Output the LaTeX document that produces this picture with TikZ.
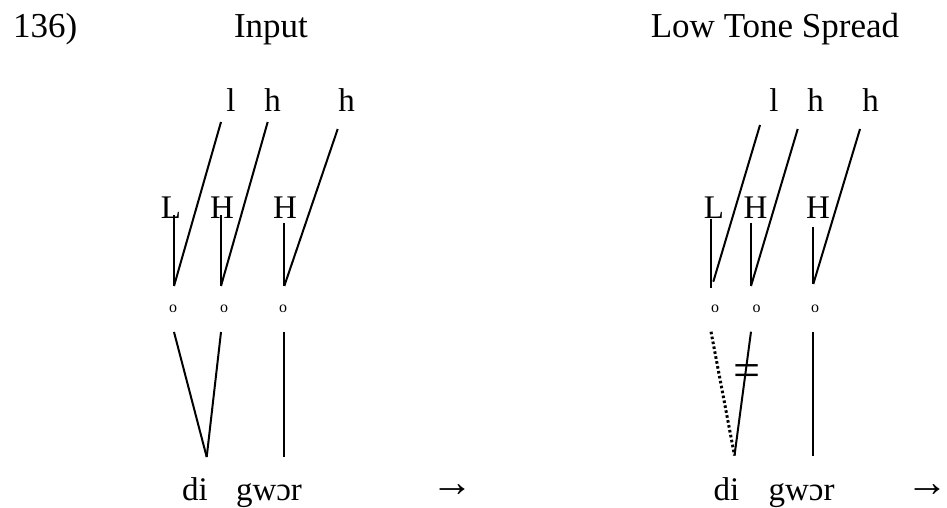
\documentclass[tikz,border=0pt]{standalone}
\usepackage{fontspec}
\setmainfont{Liberation Serif}
\begin{document}
\begin{tikzpicture}[x=1bp,y=-1bp,
  txt/.style={inner sep=0pt, anchor=base, font=\fontsize{33bp}{40bp}\selectfont},
  big/.style={inner sep=0pt, anchor=base, font=\fontsize{35bp}{40bp}\selectfont},
  sm/.style={inner sep=0pt, anchor=base, font=\fontsize{16bp}{18bp}\selectfont},
  arr/.style={inner sep=0pt, anchor=center, font=\fontsize{42bp}{44bp}\selectfont},
  ln/.style={line width=2bp},
  dotln/.style={line width=3bp, dash pattern=on 2.6bp off 2.4bp}]
\useasboundingbox (0,0) rectangle (947,508);
% headings
\node[big, anchor=base west] (num) at (13,38) {136)};
\node[big] (inp) at (271,38) {Input};
\node[big] (lts) at (775,38) {Low Tone Spread};
% ---------- left diagram ----------
\node[txt] (l1) at (231,112) {l};
\node[txt] (h1) at (272.5,112) {h};
\node[txt] (h2) at (346.5,112) {h};
\node[txt] (L1) at (171,219) {L};
\node[txt] (H1) at (222,219) {H};
\node[txt] (H2) at (285,219) {H};
\node[sm] (o1) at (173,313) {o};
\node[sm] (o2) at (224,313) {o};
\node[sm] (o3) at (283,313) {o};
\node[txt] (di1) at (195,500) {di};
\node[txt] (gw1) at (269,500) {gwɔr};
\node[arr] (ar1) at (452,491) {→};
\coordinate (l1b) at (221,122);
\coordinate (h1b) at (267.7,122);
\coordinate (h2b) at (337.7,129);
\coordinate (L1b) at (174,215);
\coordinate (H1b) at (221,215);
\coordinate (H2b) at (284.3,223);
\coordinate (v1) at (174,286);
\coordinate (v2) at (221,286);
\coordinate (v3) at (284.3,286);
\coordinate (s1) at (174,332);
\coordinate (s2) at (221,332);
\coordinate (s3) at (284.3,332);
\coordinate (d1) at (206.7,457);
\coordinate (g1) at (284.3,457);
\draw[ln] (l1b) -- (v1);
\draw[ln] (h1b) -- (v2);
\draw[ln] (h2b) -- (v3);
\draw[ln] (L1b) -- (v1);
\draw[ln] (H1b) -- (v2);
\draw[ln] (H2b) -- (v3);
\draw[ln] (s1) -- (d1);
\draw[ln] (s2) -- (d1);
\draw[ln] (s3) -- (g1);
% ---------- right diagram ----------
\node[txt] (l2) at (774,112) {l};
\node[txt] (h3) at (815.5,112) {h};
\node[txt] (h4) at (870.5,112) {h};
\node[txt] (L2) at (714,219) {L};
\node[txt] (H3) at (755.5,219) {H};
\node[txt] (H4) at (818,219) {H};
\node[sm] (o4) at (715,313) {o};
\node[sm] (o5) at (756.7,313) {o};
\node[sm] (o6) at (815,313) {o};
\node[txt] (di2) at (726.5,500) {di};
\node[txt] (gw2) at (801.5,500) {gwɔr};
\node[arr] (ar2) at (927,491) {→};
\node[inner sep=0pt, anchor=center, font=\fontsize{48bp}{50bp}\selectfont] (neq) at (747,376) {=};
\coordinate (l2b) at (760,125);
\coordinate (h3b) at (797.7,129);
\coordinate (h4b) at (860,129);
\coordinate (L2b) at (711,219);
\coordinate (H3b) at (751,222.7);
\coordinate (H4b) at (813.3,226.7);
\coordinate (v4a) at (713.3,281.7);
\coordinate (v4) at (711,288);
\coordinate (v5) at (751,286);
\coordinate (v6) at (813.3,284);
\coordinate (s4) at (711,331.7);
\coordinate (s5) at (751,331.7);
\coordinate (s6) at (813.3,331.7);
\coordinate (d2) at (734.5,455.5);
\coordinate (g2) at (813.3,455.7);
\draw[ln] (l2b) -- (v4a);
\draw[ln] (h3b) -- (v5);
\draw[ln] (h4b) -- (v6);
\draw[ln] (L2b) -- (v4);
\draw[ln] (H3b) -- (v5);
\draw[ln] (H4b) -- (v6);
\draw[dotln] (s4) -- (d2);
\draw[ln] (s5) -- (d2);
\draw[ln] (s6) -- (g2);
\end{tikzpicture}
\end{document}
